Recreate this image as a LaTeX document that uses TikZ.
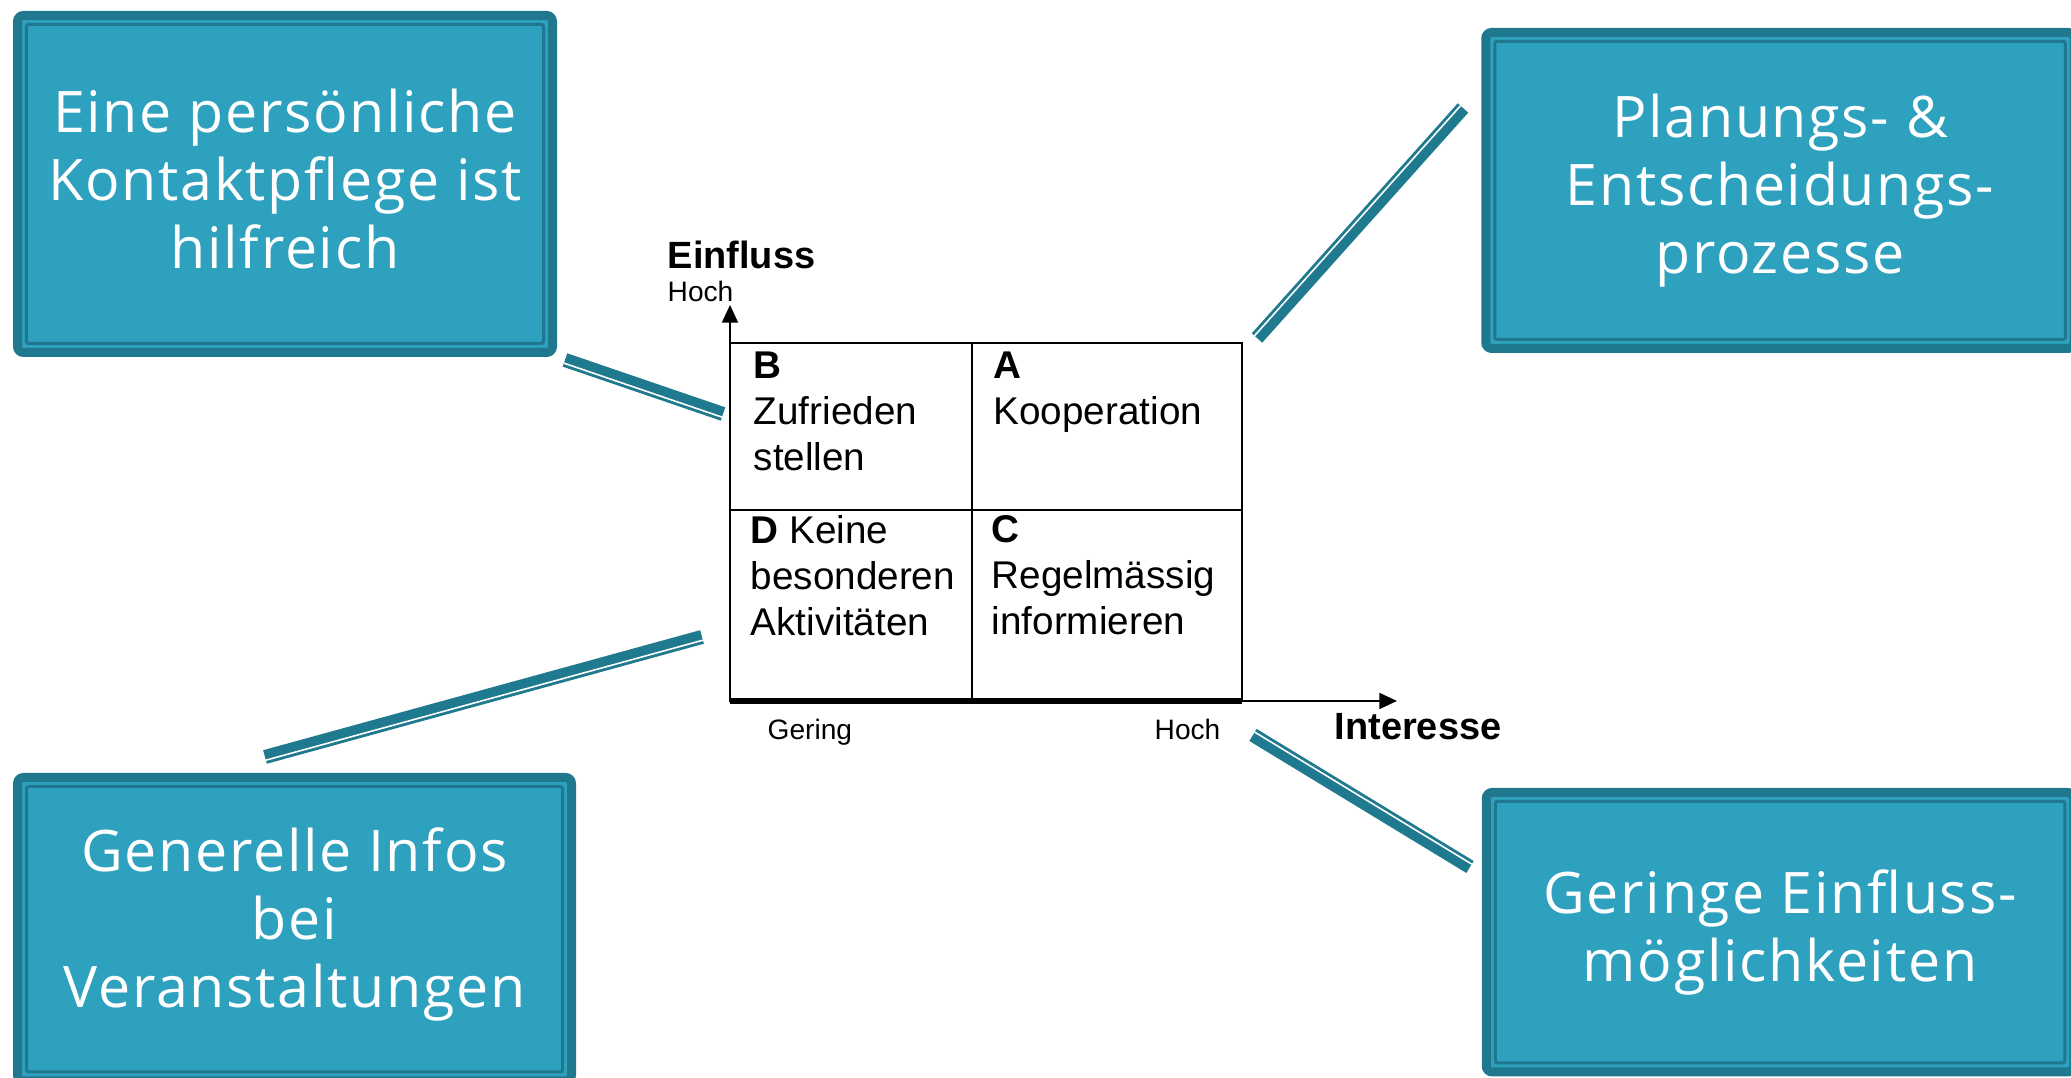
\documentclass[tikz,border=0pt]{standalone}
\usepackage{fontspec}
\setmainfont{Liberation Sans}
\newfontfamily\boxfont[LetterSpace=3]{Open Sans}
\usetikzlibrary{arrows.meta,calc}

\definecolor{boxfill}{RGB}{46,161,190}
\definecolor{boxdark}{RGB}{31,120,141}
\definecolor{linkcol}{RGB}{31,122,143}

\tikzset{
  infobox/.style={draw=boxdark, fill=boxfill, line width=0.09cm, rounded corners=0.06cm,
    outer sep=0pt, inner sep=0pt, text=white, align=center,
    font=\boxfont\fontsize{16.3pt}{19.4pt}\selectfont},
  innerframe/.style={draw=boxdark, line width=0.03cm, rounded corners=0.02cm},
  link/.style={draw=linkcol, line width=4pt},
  linkgap/.style={draw=white, line width=0.45pt},
  grid/.style={draw=black, line width=0.8pt},
  axis/.style={draw=black, line width=0.6pt, -{Triangle[width=4.5pt,length=5pt]}},
  cell/.style={anchor=north west, inner sep=0pt, align=left,
    font=\fontsize{11pt}{13.1pt}\selectfont},
  axislabel/.style={anchor=base west, inner sep=0pt, font=\bfseries\fontsize{10.8pt}{13pt}\selectfont},
  ticklabel/.style={anchor=base west, inner sep=0pt, font=\fontsize{8pt}{9pt}\selectfont},
}

\begin{document}
\begin{tikzpicture}
  \useasboundingbox (0,0) rectangle (20.71,10.78);
  \clip (0,0) rectangle (20.71,10.78);

  % the four boxes
  \node[infobox, minimum width=5.35cm, minimum height=3.37cm] (kontakt) at (2.85,8.94)
    {Eine persönliche\\Kontaktpflege ist\\hilfreich\vspace{0.1cm}};
  \node[infobox, minimum width=5.885cm, minimum height=3.16cm] (planung) at (17.80,8.875)
    {Planungs- \&\\Entscheidungs-\\prozesse};
  \node[infobox, minimum width=5.54cm, minimum height=3.035cm] (infos) at (2.945,1.4875)
    {Generelle Infos\\bei\\Veranstaltungen\vspace{0.1cm}};
  \node[infobox, minimum width=5.875cm, minimum height=2.795cm] (einfluss) at (17.80,1.4575)
    {Geringe Einfluss-\\möglichkeiten};

  \draw[innerframe] ([shift={(0.09,-0.09)}]kontakt.north west) rectangle ([shift={(-0.09,0.09)}]kontakt.south east);
  \draw[innerframe] ([shift={(0.09,-0.09)}]planung.north west) rectangle ([shift={(-0.09,0.09)}]planung.south east);
  \draw[innerframe] ([shift={(0.09,-0.09)}]infos.north west) rectangle ([shift={(-0.09,0.09)}]infos.south east);
  \draw[innerframe] ([shift={(0.09,-0.09)}]einfluss.north west) rectangle ([shift={(-0.09,0.09)}]einfluss.south east);

  % matrix
  \coordinate (O) at (7.30,3.77);
  \draw[grid] (O) rectangle (12.42,7.35);
  \draw[grid] (9.72,3.77) -- (9.72,7.35);
  \draw[grid] (7.30,5.68) -- (12.42,5.68);
  \draw[axis] (O) -- (7.30,7.73);
  \draw[axis] (O) -- (13.97,3.77);
  \draw[line width=1.6pt] (O) -- (12.42,3.77);

  \node[cell] (cellB) at (7.53,7.27) {\textbf{B}\\Zufrieden\\stellen};
  \node[cell] (cellA) at (9.93,7.27) {\textbf{A}\\Kooperation};
  \node[cell] (cellD) at (7.50,5.63) {\textbf{D} Keine\\besonderen\\Aktivitäten};
  \node[cell] (cellC) at (9.91,5.63) {\textbf{C}\\Regelmässig\\informieren};

  \node[axislabel] (ylabel) at (6.67,8.09) {Einfluss};
  \node[ticklabel] (yhoch) at (6.67,7.76) {Hoch};
  \node[ticklabel] (xgering) at (7.67,3.38) {Gering};
  \node[ticklabel] (xhoch) at (11.54,3.38) {Hoch};
  \node[axislabel] (xlabel) at (13.34,3.38) {Interesse};

  % connectors
  \coordinate (k1) at (5.65,7.18);
  \coordinate (k2) at (7.23,6.64);
  \coordinate (p1) at (12.57,7.40);
  \coordinate (p2) at (14.63,9.70);
  \coordinate (g1) at (2.65,3.21);
  \coordinate (g2) at (7.02,4.41);
  \coordinate (e1) at (12.53,3.43);
  \coordinate (e2) at (14.70,2.11);

  \draw[link] (k1) -- (k2);
  \draw[linkgap] ($(k1)!0.95pt!-90:(k2)$) -- ($(k2)!0.95pt!90:(k1)$);
  \draw[link] (p1) -- (p2);
  \draw[linkgap] ($(p1)!0.95pt!90:(p2)$) -- ($(p2)!0.95pt!-90:(p1)$);
  \draw[link] (g1) -- (g2);
  \draw[linkgap] ($(g1)!0.95pt!-90:(g2)$) -- ($(g2)!0.95pt!90:(g1)$);
  \draw[link] (e1) -- (e2);
  \draw[linkgap] ($(e1)!0.95pt!90:(e2)$) -- ($(e2)!0.95pt!-90:(e1)$);
\end{tikzpicture}
\end{document}
